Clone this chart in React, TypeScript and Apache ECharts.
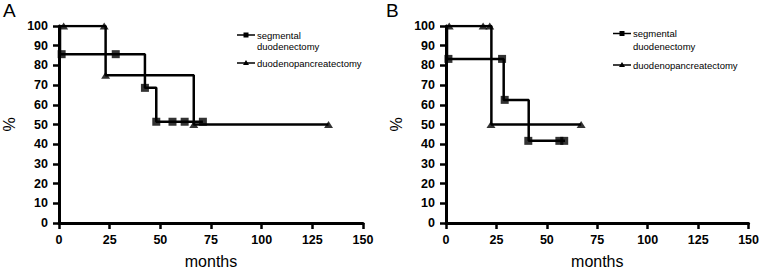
import React, { useEffect, useRef } from "react";
import * as echarts from "echarts";

// ---- Data (months, % survival) ----
const xTicks = [0, 25, 50, 75, 100, 125, 150];
const yTicks = [0, 10, 20, 30, 40, 50, 60, 70, 80, 90, 100];

// Panel A
const segA_stepT = [0, 0.5, 42.4, 48, 71];
const segA_stepS = [100, 85.7, 68.6, 51.4, 51.4];
const segA_markT = [1.3, 28, 42.4, 48, 56, 62, 71];
const segA_markS = [85.7, 85.7, 68.6, 51.4, 51.4, 51.4, 51.4];
const pdA_stepT = [0, 23, 66.5, 133];
const pdA_stepS = [100, 75, 50, 50];
const pdA_markT = [2.3, 22.3, 23, 66.5, 133];
const pdA_markS = [100, 100, 75, 50, 50];

// Panel B
const segB_stepT = [0, 0.5, 28.6, 41, 59];
const segB_stepS = [100, 83.3, 62.5, 41.7, 41.7];
const segB_markT = [1.2, 27.8, 29.1, 40.8, 56.2, 58.6];
const segB_markS = [83.3, 83.3, 62.5, 41.7, 41.7, 41.7];
const pdB_stepT = [0, 22.5, 67];
const pdB_stepS = [100, 50, 50];
const pdB_markT = [1.6, 18.4, 21.7, 22.3, 67];
const pdB_markS = [100, 100, 100, 50, 50];

const SEG = "segmental duodenectomy";
const PD = "duodenopancreatectomy";

const zip = (t: number[], s: number[]) => t.map((v, i) => [v, s[i]]);
const FONT = "'Liberation Sans', Arial, Helvetica, sans-serif";

function makeAxes(idx: number) {
  const x = {
    type: "value",
    gridIndex: idx,
    min: xTicks[0],
    max: xTicks[xTicks.length - 1],
    interval: 25,
    name: "months",
    nameLocation: "middle",
    nameGap: 30,
    nameTextStyle: { fontFamily: FONT, fontSize: 16, color: "#000" },
    axisLine: { show: true, onZero: false, lineStyle: { color: "#000", width: 3 } },
    axisTick: { show: true, length: 6, lineStyle: { color: "#000", width: 2.5 } },
    axisLabel: { fontFamily: FONT, fontSize: 12.5, fontWeight: "bold", color: "#000", margin: 10 },
    splitLine: { show: false },
  };
  const y = {
    type: "value",
    gridIndex: idx,
    min: yTicks[0],
    max: yTicks[yTicks.length - 1],
    interval: 10,
    name: "%",
    nameLocation: "middle",
    nameGap: 42,
    nameRotate: 90,
    nameTextStyle: { fontFamily: FONT, fontSize: 16, color: "#000" },
    axisLine: { show: true, onZero: false, lineStyle: { color: "#000", width: 3 } },
    axisTick: { show: true, length: 6, lineStyle: { color: "#000", width: 2.5 } },
    axisLabel: { fontFamily: FONT, fontSize: 12.5, fontWeight: "bold", color: "#000", margin: 11 },
    splitLine: { show: false },
  };
  return { x, y };
}

function stepSeries(name: string, idx: number, t: number[], s: number[]) {
  return {
    name,
    type: "line",
    xAxisIndex: idx,
    yAxisIndex: idx,
    step: "end",
    showSymbol: false,
    symbol: "none",
    lineStyle: { color: "#000", width: 2.5 },
    data: zip(t, s),
    z: 2,
  };
}

function markSeries(name: string, idx: number, t: number[], s: number[], symbol: string) {
  return {
    name,
    type: "scatter",
    xAxisIndex: idx,
    yAxisIndex: idx,
    symbol,
    symbolSize: symbol === "rect" ? 8 : [9, 7],
    itemStyle: { color: "#000" },
    data: zip(t, s),
    z: 3,
  };
}

function legend(x0: number, y1: number, y2: number, y3: number) {
  const black = { stroke: "#000", lineWidth: 1.5 };
  const txt = { fontFamily: FONT, fontSize: 9.5, fill: "#000", verticalAlign: "middle" };
  return [
    { type: "line", shape: { x1: x0, y1, x2: x0 + 18, y2: y1 }, style: black },
    { type: "rect", shape: { x: x0 + 6.5, y: y1 - 2.5, width: 5, height: 5 }, style: { fill: "#000" } },
    { type: "text", x: x0 + 20, y: y1, style: { ...txt, text: "segmental" } },
    { type: "text", x: x0 + 20, y: y2, style: { ...txt, text: "duodenectomy" } },
    { type: "line", shape: { x1: x0, y1: y3, x2: x0 + 18, y2: y3 }, style: black },
    {
      type: "polygon",
      shape: { points: [[x0 + 9, y3 - 3], [x0 + 12, y3 + 2], [x0 + 6, y3 + 2]] },
      style: { fill: "#000" },
    },
    { type: "text", x: x0 + 20, y: y3, style: { ...txt, text: "duodenopancreatectomy" } },
  ];
}

export default function App() {
  const ref = useRef<HTMLDivElement>(null);
  useEffect(() => {
    if (!ref.current) return;
    const chart = echarts.init(ref.current, null, { renderer: "svg" });
    const a = makeAxes(0);
    const b = makeAxes(1);
    chart.setOption({
      animation: false,
      backgroundColor: "#fff",
      grid: [
        { left: 58, top: 26, width: 305, height: 202.5 },
        { left: 446, top: 26, width: 304, height: 202.5 },
      ],
      xAxis: [a.x, b.x],
      yAxis: [a.y, b.y],
      series: [
        stepSeries(SEG, 0, segA_stepT, segA_stepS),
        stepSeries(PD, 0, pdA_stepT, pdA_stepS),
        markSeries(SEG, 0, segA_markT, segA_markS, "rect"),
        markSeries(PD, 0, pdA_markT, pdA_markS, "triangle"),
        stepSeries(SEG, 1, segB_stepT, segB_stepS),
        stepSeries(PD, 1, pdB_stepT, pdB_stepS),
        markSeries(SEG, 1, segB_markT, segB_markS, "rect"),
        markSeries(PD, 1, pdB_markT, pdB_markS, "triangle"),
      ],
      graphic: [
        { type: "text", x: 3, y: 1, style: { text: "A", fontFamily: FONT, fontSize: 19, fill: "#000" } },
        { type: "text", x: 386, y: 1, style: { text: "B", fontFamily: FONT, fontSize: 19, fill: "#000" } },
        ...legend(237, 35, 46, 63),
        ...legend(613, 33.5, 46.5, 65),
      ],
    });
    return () => chart.dispose();
  }, []);
  return (
    <div
      ref={ref}
      style={{ position: "fixed", left: 0, top: 0, width: 762, height: 274, background: "#fff" }}
    />
  );
}
